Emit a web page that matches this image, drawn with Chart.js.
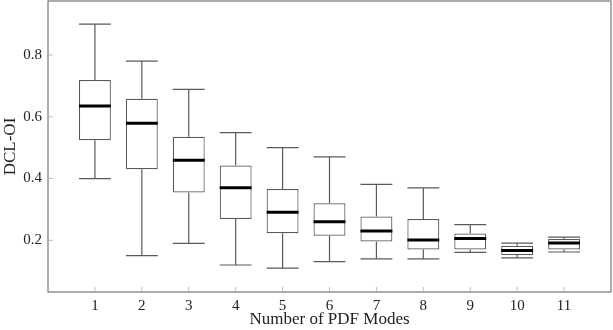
<!DOCTYPE html>
<html>
<head>
<meta charset="utf-8">
<script src="https://cdn.jsdelivr.net/npm/chart.js@4"></script>
<style>
  html, body { margin: 0; padding: 0; background: #fff; }
  #wrap { width: 613px; height: 330px; }
</style>
</head>
<body>
<div id="wrap"><canvas id="grafico" width="613" height="330"></canvas></div>
<script>
// valores
const modes = [1, 2, 3, 4, 5, 6, 7, 8, 9, 10, 11];
const whiskerLow = [0.400, 0.150, 0.190, 0.120, 0.110, 0.131, 0.140, 0.140, 0.161, 0.143, 0.162];
const q1 = [0.524, 0.430, 0.355, 0.269, 0.223, 0.215, 0.196, 0.170, 0.170, 0.152, 0.170];
const median = [0.635, 0.579, 0.459, 0.370, 0.291, 0.260, 0.230, 0.201, 0.206, 0.167, 0.191];
const q3 = [0.719, 0.658, 0.535, 0.442, 0.366, 0.320, 0.277, 0.269, 0.222, 0.182, 0.204];
const whiskerHigh = [0.900, 0.780, 0.689, 0.549, 0.500, 0.470, 0.381, 0.370, 0.251, 0.191, 0.210];
const yTicks = [0.2, 0.4, 0.6, 0.8];

const fuente = { family: "'Liberation Serif', serif", size: 15 };
const fuenteTitulo = { family: "'Liberation Serif', serif", size: 17 };
const gris = '#5a5a5a';

// bigotes, medianas, marco y marcas de los ejes
const cajaPlugin = {
    id: 'cajas',
    afterDatasetsDraw(chart) {
        const ctx = chart.ctx;
        const y = chart.scales.y;
        const x = chart.scales.x;
        const meta = chart.getDatasetMeta(0);
        ctx.save();
        meta.data.forEach((bar, i) => {
            const cx = bar.x;
            const half = bar.width / 2;
            const yLo = y.getPixelForValue(whiskerLow[i]);
            const yHi = y.getPixelForValue(whiskerHigh[i]);
            const yQ1 = y.getPixelForValue(q1[i]);
            const yQ3 = y.getPixelForValue(q3[i]);
            const yMed = y.getPixelForValue(median[i]);
            ctx.strokeStyle = gris;
            ctx.lineWidth = 1.2;
            ctx.beginPath();
            ctx.moveTo(cx, yQ3); ctx.lineTo(cx, yHi);
            ctx.moveTo(cx, yQ1); ctx.lineTo(cx, yLo);
            ctx.moveTo(cx - half, yHi); ctx.lineTo(cx + half, yHi);
            ctx.moveTo(cx - half, yLo); ctx.lineTo(cx + half, yLo);
            ctx.stroke();
            ctx.strokeStyle = '#000';
            ctx.lineWidth = 3;
            ctx.beginPath();
            ctx.moveTo(cx - half, yMed); ctx.lineTo(cx + half, yMed);
            ctx.stroke();
        });
        const a = chart.chartArea;
        ctx.strokeStyle = '#777';
        ctx.lineWidth = 1.2;
        ctx.strokeRect(a.left, a.top, a.right - a.left, a.bottom - a.top);
        ctx.strokeStyle = '#aaa';
        ctx.lineWidth = 0.8;
        ctx.beginPath();
        yTicks.forEach(v => {
            const py = y.getPixelForValue(v);
            ctx.moveTo(a.left, py); ctx.lineTo(a.left + 5, py);
        });
        modes.forEach(v => {
            const px = x.getPixelForValue(v);
            ctx.moveTo(px, a.bottom); ctx.lineTo(px, a.bottom - 5);
        });
        ctx.stroke();
        ctx.restore();
    }
};

const ctx = document.getElementById('grafico').getContext('2d');
new Chart(ctx, {
    type: 'bar',
    data: {
        datasets: [{
            data: modes.map((m, i) => ({ x: m, y: [q1[i], q3[i]] })),
            backgroundColor: '#fff',
            borderColor: gris,
            borderWidth: 1.2,
            borderSkipped: false,
            barPercentage: 0.85,
            categoryPercentage: 0.8
        }]
    },
    options: {
        responsive: false,
        animation: false,
        layout: { padding: { top: 1, right: 2, left: 0, bottom: 0 } },
        plugins: {
            legend: { display: false },
            tooltip: { enabled: false }
        },
        scales: {
            x: {
                type: 'linear',
                offset: false,
                min: 0,
                max: 12,
                afterBuildTicks: s => { s.ticks = modes.map(v => ({ value: v })); },
                grid: { display: false, drawTicks: false, offset: false },
                border: { display: false },
                ticks: { color: '#222', font: fuente, padding: 5, maxRotation: 0, autoSkip: false },
                title: { display: true, text: 'Number of PDF Modes', color: '#222', font: fuenteTitulo, padding: { top: 0, bottom: 0 } },
                afterFit: s => { s.height = 38; s.paddingLeft = 0; s.paddingRight = 0; }
            },
            y: {
                min: 0.0325,
                max: 0.975,
                afterBuildTicks: s => { s.ticks = yTicks.map(v => ({ value: v })); },
                grid: { display: false, drawTicks: false },
                border: { display: false },
                ticks: { color: '#222', font: fuente, padding: 6, callback: v => v.toFixed(1) },
                title: { display: true, text: 'DCL-OI', color: '#222', font: fuenteTitulo, padding: { top: 0, bottom: 1 } },
                afterFit: s => { s.width = 48; s.paddingTop = 0; s.paddingBottom = 0; }
            }
        }
    },
    plugins: [cajaPlugin]
});
</script>
</body>
</html>
